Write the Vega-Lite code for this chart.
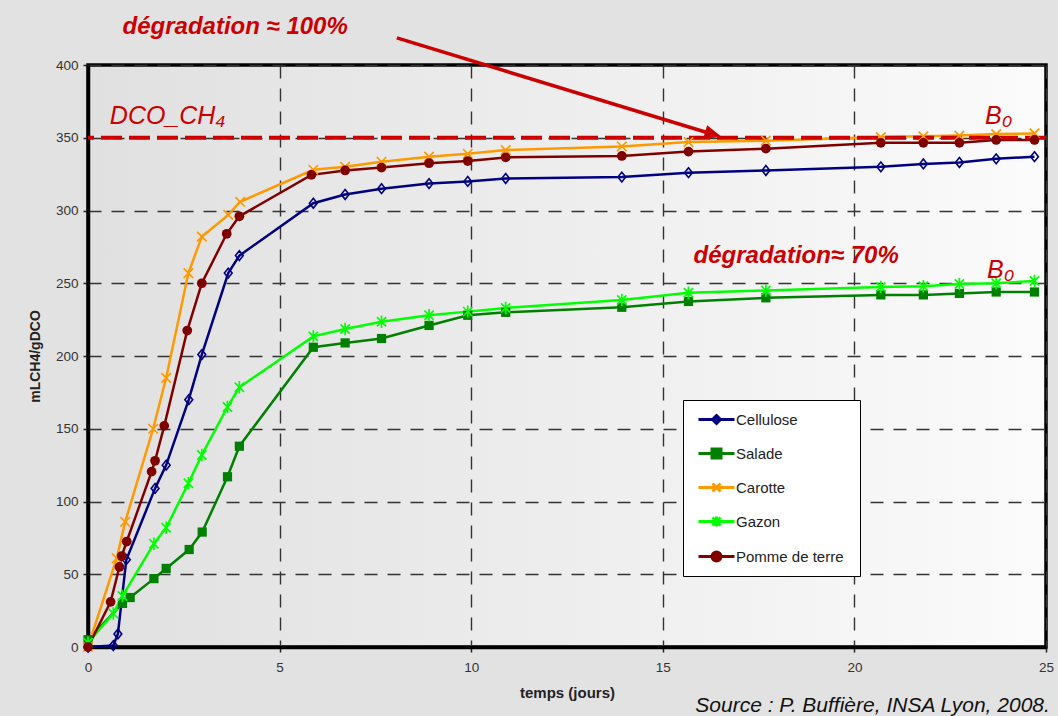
{
  "$schema": "https://vega.github.io/schema/vega-lite/v6.json",
  "width": 958,
  "height": 582,
  "autosize": {"type": "none"},
  "padding": {"left": 88, "top": 65, "right": 12, "bottom": 69},
  "background": "#e2e2e2",
  "config": {
    "font": "Liberation Sans",
    "view": {
      "stroke": "#000",
      "strokeWidth": 3.5,
      "fill": {"gradient": "linear", "x1": 0, "y1": 0, "x2": 1, "y2": 0, "stops": [{"offset": 0, "color": "#e0e0e0"}, {"offset": 1, "color": "#fbfbfb"}]}
    },
    "axis": {
      "domainColor": "#000",
      "domainWidth": 3.5,
      "tickColor": "#222",
      "tickSize": 5,
      "tickWidth": 1.5,
      "labelFont": "Liberation Sans",
      "labelFontSize": 13.5,
      "labelColor": "#333",
      "gridColor": "#333",
      "gridDash": [13, 10],
      "gridWidth": 1.4,
      "titleFont": "Liberation Sans",
      "titleFontWeight": "bold",
      "titleColor": "#222"
    }
  },
  "datasets": {
    "series": [
      {"materiau": "Cellulose", "jours": 0, "ml": 0},
      {"materiau": "Cellulose", "jours": 0.66, "ml": 1},
      {"materiau": "Cellulose", "jours": 0.78, "ml": 9},
      {"materiau": "Cellulose", "jours": 1.0, "ml": 60},
      {"materiau": "Cellulose", "jours": 1.75, "ml": 109},
      {"materiau": "Cellulose", "jours": 2.04, "ml": 125},
      {"materiau": "Cellulose", "jours": 2.63, "ml": 170},
      {"materiau": "Cellulose", "jours": 2.97, "ml": 201},
      {"materiau": "Cellulose", "jours": 3.66, "ml": 257},
      {"materiau": "Cellulose", "jours": 3.95, "ml": 269},
      {"materiau": "Cellulose", "jours": 5.88, "ml": 305},
      {"materiau": "Cellulose", "jours": 6.71, "ml": 311},
      {"materiau": "Cellulose", "jours": 7.66, "ml": 315},
      {"materiau": "Cellulose", "jours": 8.9, "ml": 318.5},
      {"materiau": "Cellulose", "jours": 9.91, "ml": 320},
      {"materiau": "Cellulose", "jours": 10.9, "ml": 322},
      {"materiau": "Cellulose", "jours": 13.93, "ml": 323},
      {"materiau": "Cellulose", "jours": 15.67, "ml": 326},
      {"materiau": "Cellulose", "jours": 17.69, "ml": 327.5},
      {"materiau": "Cellulose", "jours": 20.69, "ml": 330},
      {"materiau": "Cellulose", "jours": 21.8, "ml": 332},
      {"materiau": "Cellulose", "jours": 22.74, "ml": 333},
      {"materiau": "Cellulose", "jours": 23.7, "ml": 335.5},
      {"materiau": "Cellulose", "jours": 24.7, "ml": 337},
      {"materiau": "Salade", "jours": 0, "ml": 5},
      {"materiau": "Salade", "jours": 0.9, "ml": 30},
      {"materiau": "Salade", "jours": 1.1, "ml": 34},
      {"materiau": "Salade", "jours": 1.72, "ml": 47},
      {"materiau": "Salade", "jours": 2.04, "ml": 54},
      {"materiau": "Salade", "jours": 2.64, "ml": 67},
      {"materiau": "Salade", "jours": 2.98, "ml": 79},
      {"materiau": "Salade", "jours": 3.64, "ml": 117},
      {"materiau": "Salade", "jours": 3.95, "ml": 138},
      {"materiau": "Salade", "jours": 5.88, "ml": 206},
      {"materiau": "Salade", "jours": 6.71, "ml": 209},
      {"materiau": "Salade", "jours": 7.66, "ml": 212},
      {"materiau": "Salade", "jours": 8.9, "ml": 221},
      {"materiau": "Salade", "jours": 9.91, "ml": 228},
      {"materiau": "Salade", "jours": 10.9, "ml": 230},
      {"materiau": "Salade", "jours": 13.93, "ml": 233.5},
      {"materiau": "Salade", "jours": 15.67, "ml": 237.5},
      {"materiau": "Salade", "jours": 17.69, "ml": 240},
      {"materiau": "Salade", "jours": 20.69, "ml": 242},
      {"materiau": "Salade", "jours": 21.8, "ml": 242},
      {"materiau": "Salade", "jours": 22.74, "ml": 243},
      {"materiau": "Salade", "jours": 23.7, "ml": 244},
      {"materiau": "Salade", "jours": 24.7, "ml": 244},
      {"materiau": "Carotte", "jours": 0, "ml": 0},
      {"materiau": "Carotte", "jours": 0.75, "ml": 61},
      {"materiau": "Carotte", "jours": 0.97, "ml": 86},
      {"materiau": "Carotte", "jours": 1.7, "ml": 150},
      {"materiau": "Carotte", "jours": 2.04, "ml": 185},
      {"materiau": "Carotte", "jours": 2.62, "ml": 257},
      {"materiau": "Carotte", "jours": 2.97, "ml": 282},
      {"materiau": "Carotte", "jours": 3.66, "ml": 297},
      {"materiau": "Carotte", "jours": 3.97, "ml": 306},
      {"materiau": "Carotte", "jours": 5.88, "ml": 328},
      {"materiau": "Carotte", "jours": 6.71, "ml": 330},
      {"materiau": "Carotte", "jours": 7.66, "ml": 333.5},
      {"materiau": "Carotte", "jours": 8.9, "ml": 337},
      {"materiau": "Carotte", "jours": 9.91, "ml": 339},
      {"materiau": "Carotte", "jours": 10.9, "ml": 341.5},
      {"materiau": "Carotte", "jours": 13.93, "ml": 344},
      {"materiau": "Carotte", "jours": 15.67, "ml": 347},
      {"materiau": "Carotte", "jours": 17.69, "ml": 348},
      {"materiau": "Carotte", "jours": 20.69, "ml": 350.5},
      {"materiau": "Carotte", "jours": 21.8, "ml": 351},
      {"materiau": "Carotte", "jours": 22.74, "ml": 351.5},
      {"materiau": "Carotte", "jours": 23.7, "ml": 352.5},
      {"materiau": "Carotte", "jours": 24.7, "ml": 353},
      {"materiau": "Gazon", "jours": 0, "ml": 3},
      {"materiau": "Gazon", "jours": 0.66, "ml": 23},
      {"materiau": "Gazon", "jours": 0.9, "ml": 35},
      {"materiau": "Gazon", "jours": 1.72, "ml": 71},
      {"materiau": "Gazon", "jours": 2.04, "ml": 82},
      {"materiau": "Gazon", "jours": 2.62, "ml": 112.5},
      {"materiau": "Gazon", "jours": 2.97, "ml": 132},
      {"materiau": "Gazon", "jours": 3.64, "ml": 165},
      {"materiau": "Gazon", "jours": 3.95, "ml": 178.5},
      {"materiau": "Gazon", "jours": 5.88, "ml": 213.5},
      {"materiau": "Gazon", "jours": 6.71, "ml": 218.5},
      {"materiau": "Gazon", "jours": 7.66, "ml": 223.5},
      {"materiau": "Gazon", "jours": 8.9, "ml": 228},
      {"materiau": "Gazon", "jours": 9.91, "ml": 230.5},
      {"materiau": "Gazon", "jours": 10.9, "ml": 233},
      {"materiau": "Gazon", "jours": 13.93, "ml": 238.5},
      {"materiau": "Gazon", "jours": 15.67, "ml": 243.5},
      {"materiau": "Gazon", "jours": 17.69, "ml": 245},
      {"materiau": "Gazon", "jours": 20.69, "ml": 247.5},
      {"materiau": "Gazon", "jours": 21.8, "ml": 248},
      {"materiau": "Gazon", "jours": 22.74, "ml": 249.5},
      {"materiau": "Gazon", "jours": 23.7, "ml": 250},
      {"materiau": "Gazon", "jours": 24.7, "ml": 251.5},
      {"materiau": "Pomme de terre", "jours": 0, "ml": 0},
      {"materiau": "Pomme de terre", "jours": 0.59, "ml": 31},
      {"materiau": "Pomme de terre", "jours": 0.82, "ml": 55},
      {"materiau": "Pomme de terre", "jours": 0.88, "ml": 62.5},
      {"materiau": "Pomme de terre", "jours": 1.01, "ml": 72.5},
      {"materiau": "Pomme de terre", "jours": 1.66, "ml": 120.5},
      {"materiau": "Pomme de terre", "jours": 1.75, "ml": 128},
      {"materiau": "Pomme de terre", "jours": 1.99, "ml": 152},
      {"materiau": "Pomme de terre", "jours": 2.59, "ml": 217.5},
      {"materiau": "Pomme de terre", "jours": 2.97, "ml": 250},
      {"materiau": "Pomme de terre", "jours": 3.62, "ml": 284},
      {"materiau": "Pomme de terre", "jours": 3.95, "ml": 296},
      {"materiau": "Pomme de terre", "jours": 5.83, "ml": 324.5},
      {"materiau": "Pomme de terre", "jours": 6.71, "ml": 327.5},
      {"materiau": "Pomme de terre", "jours": 7.66, "ml": 329.5},
      {"materiau": "Pomme de terre", "jours": 8.9, "ml": 332.5},
      {"materiau": "Pomme de terre", "jours": 9.91, "ml": 334},
      {"materiau": "Pomme de terre", "jours": 10.9, "ml": 336.5},
      {"materiau": "Pomme de terre", "jours": 13.93, "ml": 337.5},
      {"materiau": "Pomme de terre", "jours": 15.67, "ml": 340.5},
      {"materiau": "Pomme de terre", "jours": 17.69, "ml": 342.5},
      {"materiau": "Pomme de terre", "jours": 20.69, "ml": 346.5},
      {"materiau": "Pomme de terre", "jours": 21.8, "ml": 346.5},
      {"materiau": "Pomme de terre", "jours": 22.74, "ml": 346.5},
      {"materiau": "Pomme de terre", "jours": 23.7, "ml": 348.5},
      {"materiau": "Pomme de terre", "jours": 24.7, "ml": 348.5}
    ]
  },
  "layer": [
    {
      "data": {"name": "series"},
      "mark": {"type": "line", "strokeWidth": 2.5},
      "encoding": {
        "x": {"field": "jours", "type": "quantitative", "scale": {"domain": [0, 25], "nice": false, "zero": false},
          "axis": {"values": [0, 5, 10, 15, 20, 25], "title": "temps (jours)", "titleFontSize": 15, "titlePadding": 12, "labelPadding": 8, "labelFlush": false, "grid": true}},
        "y": {"field": "ml", "type": "quantitative", "scale": {"domain": [0, 400], "nice": false, "zero": false},
          "axis": {"values": [0, 50, 100, 150, 200, 250, 300, 350, 400], "title": "mLCH4/gDCO", "titleFontSize": 14, "titlePadding": 13, "labelPadding": 5, "grid": true}},
        "color": {"field": "materiau", "type": "nominal",
          "scale": {"domain": ["Cellulose", "Salade", "Carotte", "Gazon", "Pomme de terre"], "range": ["#000080", "#008000", "#ff9900", "#00ff00", "#800000"]},
          "legend": {
            "orient": "none", "legendX": 595, "legendY": 335, "title": null,
            "padding": 8, "strokeColor": "#000", "fillColor": "#fff",
            "symbolSize": 400, "symbolStrokeWidth": 3, "labelFontSize": 15, "labelColor": "#222", "labelFont": "Liberation Sans",
            "labelOffset": 22, "rowPadding": 12,
            "labelExpr": "datum.label == 'Pomme de terre' ? datum.label + '  \u200b' : datum.label",
            "encoding": {
              "symbols": {
                "shape": {"value": {"expr": "datum.value === 'Cellulose' ? 'M-0.4,0H3.2M1.4,-0.4L1.8,0L1.4,0.4L1,0Z' : datum.value === 'Salade' ? 'M-0.4,0H3.2M0.95,-0.45H1.85V0.45H0.95Z' : datum.value === 'Carotte' ? 'M-0.4,0H3.2M1,-0.4L1.8,0.4M1,0.4L1.8,-0.4' : datum.value === 'Gazon' ? 'M-0.4,0H3.2M1,-0.4L1.8,0.4M1,0.4L1.8,-0.4M1.4,-0.5V0.5' : 'M-0.4,0H3.2M0.95,0A0.45,0.45 0 1,0 1.85,0A0.45,0.45 0 1,0 0.95,0Z'"}},
                "fill": {"value": {"expr": "scale('color', datum.value)"}},
                "stroke": {"value": {"expr": "scale('color', datum.value)"}},
                "strokeWidth": {"value": 3},
                "opacity": {"value": 1}
              }
            }
          }
        }
      }
    },
    {
      "data": {"values": [{}]},
      "mark": {"type": "rule", "color": "#cc0000", "strokeWidth": 3.8, "strokeDash": [21, 7]},
      "encoding": {
        "y": {"datum": 350, "type": "quantitative", "scale": {"domain": [0, 400], "nice": false, "zero": false}}
      }
    },
    {
      "data": {"name": "series"},
      "transform": [{"filter": {"field": "materiau", "equal": "Cellulose"}}],
      "mark": {"type": "point", "filled": false, "size": 95, "strokeWidth": 1.6, "opacity": 1, "shape": "M0,-1L0.8,0L0,1L-0.8,0Z"},
      "encoding": {
        "x": {"field": "jours", "type": "quantitative", "scale": {"domain": [0, 25], "nice": false, "zero": false}},
        "y": {"field": "ml", "type": "quantitative", "scale": {"domain": [0, 400], "nice": false, "zero": false}},
        "color": {"field": "materiau", "type": "nominal", "legend": null,
          "scale": {"domain": ["Cellulose", "Salade", "Carotte", "Gazon", "Pomme de terre"], "range": ["#000080", "#008000", "#ff9900", "#00ff00", "#800000"]}}
      }
    },
    {
      "data": {"name": "series"},
      "transform": [{"filter": {"field": "materiau", "equal": "Salade"}}],
      "mark": {"type": "point", "filled": true, "size": 85, "opacity": 1, "shape": "square"},
      "encoding": {
        "x": {"field": "jours", "type": "quantitative", "scale": {"domain": [0, 25], "nice": false, "zero": false}},
        "y": {"field": "ml", "type": "quantitative", "scale": {"domain": [0, 400], "nice": false, "zero": false}},
        "color": {"field": "materiau", "type": "nominal", "legend": null,
          "scale": {"domain": ["Cellulose", "Salade", "Carotte", "Gazon", "Pomme de terre"], "range": ["#000080", "#008000", "#ff9900", "#00ff00", "#800000"]}}
      }
    },
    {
      "data": {"name": "series"},
      "transform": [{"filter": {"field": "materiau", "equal": "Carotte"}}],
      "mark": {"type": "point", "filled": false, "size": 90, "strokeWidth": 1.7, "opacity": 1, "shape": "M-1,-1L1,1M-1,1L1,-1"},
      "encoding": {
        "x": {"field": "jours", "type": "quantitative", "scale": {"domain": [0, 25], "nice": false, "zero": false}},
        "y": {"field": "ml", "type": "quantitative", "scale": {"domain": [0, 400], "nice": false, "zero": false}},
        "color": {"field": "materiau", "type": "nominal", "legend": null,
          "scale": {"domain": ["Cellulose", "Salade", "Carotte", "Gazon", "Pomme de terre"], "range": ["#000080", "#008000", "#ff9900", "#00ff00", "#800000"]}}
      }
    },
    {
      "data": {"name": "series"},
      "transform": [{"filter": {"field": "materiau", "equal": "Gazon"}}],
      "mark": {"type": "point", "filled": false, "size": 85, "strokeWidth": 1.7, "opacity": 1, "shape": "M-1,-1L1,1M-1,1L1,-1M0,-1.35V1.35"},
      "encoding": {
        "x": {"field": "jours", "type": "quantitative", "scale": {"domain": [0, 25], "nice": false, "zero": false}},
        "y": {"field": "ml", "type": "quantitative", "scale": {"domain": [0, 400], "nice": false, "zero": false}},
        "color": {"field": "materiau", "type": "nominal", "legend": null,
          "scale": {"domain": ["Cellulose", "Salade", "Carotte", "Gazon", "Pomme de terre"], "range": ["#000080", "#008000", "#ff9900", "#00ff00", "#800000"]}}
      }
    },
    {
      "data": {"name": "series"},
      "transform": [{"filter": {"field": "materiau", "equal": "Pomme de terre"}}],
      "mark": {"type": "point", "filled": true, "size": 95, "opacity": 1, "shape": "circle"},
      "encoding": {
        "x": {"field": "jours", "type": "quantitative", "scale": {"domain": [0, 25], "nice": false, "zero": false}},
        "y": {"field": "ml", "type": "quantitative", "scale": {"domain": [0, 400], "nice": false, "zero": false}},
        "color": {"field": "materiau", "type": "nominal", "legend": null,
          "scale": {"domain": ["Cellulose", "Salade", "Carotte", "Gazon", "Pomme de terre"], "range": ["#000080", "#008000", "#ff9900", "#00ff00", "#800000"]}}
      }
    },
    {
      "data": {"values": [{}]},
      "mark": {"type": "rule", "color": "#cc0000", "strokeWidth": 3.5},
      "encoding": {
        "x": {"datum": 8.06, "type": "quantitative", "scale": {"domain": [0, 25], "nice": false, "zero": false}},
        "y": {"datum": 418.6, "type": "quantitative", "scale": {"domain": [0, 400], "nice": false, "zero": false}},
        "x2": {"datum": 16.28},
        "y2": {"datum": 352.6}
      }
    },
    {
      "data": {"values": [{}]},
      "mark": {"type": "point", "filled": true, "color": "#cc0000", "opacity": 1, "size": 196, "shape": "M0,-1.5L1,1L-1,1Z", "angle": 106.8},
      "encoding": {
        "x": {"datum": 16.28, "type": "quantitative", "scale": {"domain": [0, 25], "nice": false, "zero": false}},
        "y": {"datum": 352.6, "type": "quantitative", "scale": {"domain": [0, 400], "nice": false, "zero": false}}
      }
    },
    {
      "data": {"values": [{}]},
      "mark": {"type": "text", "text": "dégradation ≈ 100%", "color": "#cc0000", "font": "Liberation Sans", "fontSize": 24, "fontWeight": "bold", "fontStyle": "italic", "align": "center", "baseline": "middle"},
      "encoding": {
        "x": {"datum": 3.84, "type": "quantitative", "scale": {"domain": [0, 25], "nice": false, "zero": false}},
        "y": {"datum": 426, "type": "quantitative", "scale": {"domain": [0, 400], "nice": false, "zero": false}}
      }
    },
    {
      "data": {"values": [{}]},
      "mark": {"type": "text", "text": "dégradation≈ 70%", "color": "#cc0000", "font": "Liberation Sans", "fontSize": 24, "fontWeight": "bold", "fontStyle": "italic", "align": "center", "baseline": "middle"},
      "encoding": {
        "x": {"datum": 18.48, "type": "quantitative", "scale": {"domain": [0, 25], "nice": false, "zero": false}},
        "y": {"datum": 268.5, "type": "quantitative", "scale": {"domain": [0, 400], "nice": false, "zero": false}}
      }
    },
    {
      "data": {"values": [{}]},
      "mark": {"type": "text", "text": "DCO_CH₄", "color": "#cc0000", "font": "Liberation Sans", "fontSize": 25, "fontStyle": "italic", "align": "left", "baseline": "middle"},
      "encoding": {
        "x": {"datum": 0.57, "type": "quantitative", "scale": {"domain": [0, 25], "nice": false, "zero": false}},
        "y": {"datum": 365, "type": "quantitative", "scale": {"domain": [0, 400], "nice": false, "zero": false}}
      }
    },
    {
      "data": {"values": [{}]},
      "mark": {"type": "text", "text": "B₀", "color": "#cc0000", "font": "Liberation Sans", "fontSize": 25, "fontStyle": "italic", "align": "left", "baseline": "middle"},
      "encoding": {
        "x": {"datum": 23.41, "type": "quantitative", "scale": {"domain": [0, 25], "nice": false, "zero": false}},
        "y": {"datum": 365, "type": "quantitative", "scale": {"domain": [0, 400], "nice": false, "zero": false}}
      }
    },
    {
      "data": {"values": [{}]},
      "mark": {"type": "text", "text": "B₀", "color": "#cc0000", "font": "Liberation Sans", "fontSize": 25, "fontStyle": "italic", "align": "left", "baseline": "middle"},
      "encoding": {
        "x": {"datum": 23.46, "type": "quantitative", "scale": {"domain": [0, 25], "nice": false, "zero": false}},
        "y": {"datum": 259, "type": "quantitative", "scale": {"domain": [0, 400], "nice": false, "zero": false}}
      }
    },
    {
      "data": {"values": [{}]},
      "mark": {"type": "text", "text": "Source : P. Buffière, INSA Lyon, 2008.", "color": "#111", "font": "Liberation Sans", "fontSize": 21, "fontStyle": "italic", "align": "right", "baseline": "middle"},
      "encoding": {
        "x": {"datum": 25.1, "type": "quantitative", "scale": {"domain": [0, 25], "nice": false, "zero": false}},
        "y": {"datum": -40.5, "type": "quantitative", "scale": {"domain": [0, 400], "nice": false, "zero": false}}
      }
    }
  ]
}
